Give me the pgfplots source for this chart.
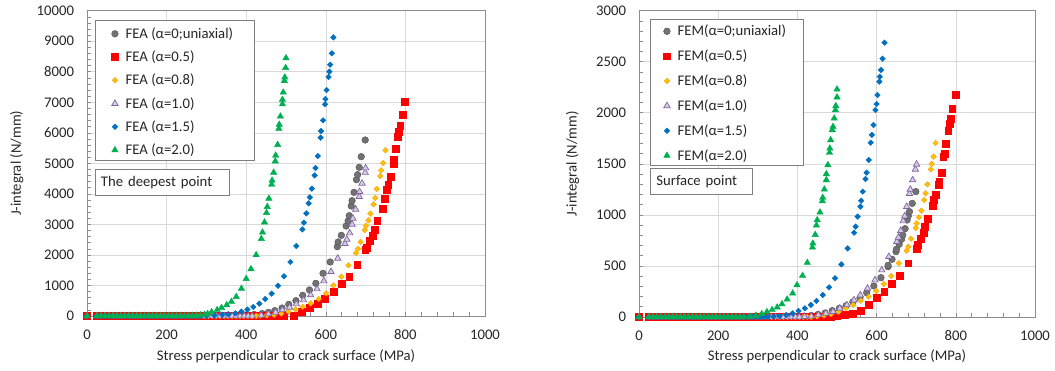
\documentclass[border=0pt]{standalone}
\usepackage{pgfplots}
\pgfplotsset{compat=1.18}
\usepackage{fontspec}
\setmainfont{Carlito}
\definecolor{cgray}{HTML}{727272}
\definecolor{cgrayd}{HTML}{595959}
\definecolor{cred}{HTML}{FF0000}
\definecolor{corange}{HTML}{FFC000}
\definecolor{corangeD}{HTML}{F5A623}
\definecolor{cpurple}{HTML}{8064A2}
\definecolor{cpurpleF}{HTML}{D6CCE4}
\definecolor{cblue}{HTML}{0070C0}
\definecolor{cgreen}{HTML}{00B050}
\definecolor{gridc}{HTML}{D9D9D9}
\definecolor{axc}{HTML}{8C8C8C}
\definecolor{txtc}{HTML}{262626}
\definecolor{boxc}{HTML}{7F7F7F}
\newcommand{\fnt}{\fontsize{14.7}{17}\selectfont}
\pgfplotsset{
  myaxis/.style={
    scale only axis, xmin=0, xmax=1000, xtick={0,200,...,1000}, minor x tick num=4,
    minor y tick num=4, ymin=0, scaled y ticks=false, scaled x ticks=false,
    grid=major, major grid style={color=gridc, line width=0.6pt},
    axis line style={color=axc, line width=0.8pt},
    tick style={color=axc, line width=0.6pt}, tick align=inside,
    major tick length=4pt, minor tick length=4pt,
    xtick pos=bottom, ytick pos=left, clip=false,
    font=\fnt, text=txtc,
    tick label style={font=\fnt},
    label style={font=\fnt},
    /pgf/number format/assume math mode=true, /pgf/number format/1000 sep={},
    xticklabel style={yshift=-10pt}, yticklabel style={xshift=-9.5pt},
    xlabel={Stress perpendicular to crack surface (MPa)},
    ylabel={J-integral (N/mm)},
    only marks,
    legend cell align=left,
    legend image code/.code={\draw[mark repeat=2,mark phase=2,##1] plot coordinates {(0cm,0cm)(0.15cm,0cm)(0.3cm,0cm)}; \path (0.45cm,0cm);},
    legend style={draw=none, fill=none, anchor=north west, font=\fnt,
      inner xsep=0pt, inner ysep=3pt, row sep=7pt, cells={inner xsep=4.4pt, inner ysep=1pt, font=\fnt}},
  },
  sGray/.style={mark=*, mark size=3.3pt, mark options={fill=cgray, draw=cgrayd, line width=0.5pt}},
  sRed/.style={mark=square*, mark size=3.4pt, mark options={fill=cred, draw=cred}},
  sOrange/.style={mark=square*, mark size=2.0pt, mark options={rotate=45, fill=corange, draw=corangeD, line width=0.4pt}},
  sPurple/.style={mark=triangle*, mark size=3.7pt, mark options={fill=cpurpleF, draw=cpurple, line width=0.7pt}},
  sBlue/.style={mark=square*, mark size=2.0pt, mark options={rotate=45, fill=cblue, draw=cblue}},
  sGreen/.style={mark=triangle*, mark size=3.7pt, mark options={fill=cgreen, draw=cgreen}},
}
\begin{document}
\begin{tikzpicture}
\path[use as bounding box] (0pt,0pt) rectangle (1055pt,-371pt);
% ---------------- left: deepest point
\begin{axis}[myaxis, at={(87pt,-316pt)}, anchor=south west, width=398pt, height=305.3pt,
  ymax=10000, ytick={0,1000,...,10000},
  xlabel style={at={(axis description cs:0.5,-0.133)}, anchor=center},
  ylabel style={at={(axis description cs:-0.1766,0.5)}, anchor=center},
  legend style={at={(0.0612,0.9614)}}]
\addplot[sGray] coordinates {(0,0)(25,0)(35,0)(45,0)(55,0)(65,0)(75,0)(85,0)(95,0)(105,0)(115,0)(125,0)(135,0)(145,0)(155,0)(165,0)(175,0)(185,0)(195,0)(205,0)(215,0)(225,0)(235,0)(245,0)(255,0)(265,0)(275,0)(285,0)(295,0)(305,0)(315,0)(325,0)(335,0)(345,0)
(360,5)(380,15)(400,30)(420,50)(440,80)(456,120)(472,175)(490,262)(507,382)(525,502)(542,677)(559,852)(575,1070)(593,1397)(611,1769)(629,2271)(631,2424)(639,2642)(651,2948)(656,3111)(659,3286)(664,3603)(666,3777)(671,4050)(677,4465)(680,4629)(684,4869)(689,5218)(699,5764)};
\addlegendentry{FEA (α=0;uniaxial)}
\addplot[sRed] coordinates {(0,0)(25,0)(35,0)(45,0)(55,0)(65,0)(75,0)(85,0)(95,0)(105,0)(115,0)(125,0)(135,0)(145,0)(155,0)(165,0)(175,0)(185,0)(195,0)(205,0)(215,0)(225,0)(235,0)(245,0)(255,0)(265,0)(275,0)(285,0)(295,0)(305,0)(315,0)(325,0)(335,0)(345,0)(355,0)(365,0)(375,0)(385,0)(395,0)(405,0)(415,0)(425,0)(435,0)(445,0)(455,0)(465,0)(475,0)(485,0)(495,0)
(520,22)(540,142)(560,273)(579,393)(598,557)(619,786)(639,1048)(659,1288)(679,1670)(699,2162)(702,2227)(711,2456)(717,2631)(722,2838)(729,3111)(742,3526)(747,3843)(754,4148)(757,4290)(763,4552)(770,5000)(771,5109)(776,5480)(780,5862)(784,6037)(787,6223)(793,6583)(799,7020)};
\addlegendentry{FEA (α=0.5)}
\addplot[sOrange] coordinates {(0,0)(25,0)(35,0)(45,0)(55,0)(65,0)(75,0)(85,0)(95,0)(105,0)(115,0)(125,0)(135,0)(145,0)(155,0)(165,0)(175,0)(185,0)(195,0)(205,0)(215,0)(225,0)(235,0)(245,0)(255,0)(265,0)(275,0)(285,0)(295,0)(305,0)(315,0)(325,0)(335,0)(345,0)(355,0)(365,0)(375,0)(385,0)(395,0)(405,0)(415,0)(425,0)
(435,10)(452,20)(470,40)(488,80)(506,142)(524,218)(542,306)(562,415)(582,557)(601,742)(619,1004)(639,1288)(657,1659)(676,2063)(681,2205)(687,2424)(698,2817)(701,2959)(707,3133)(712,3352)(720,3657)(724,3865)(728,4159)(737,4585)(739,4771)(744,5011)(750,5426)};
\addlegendentry{FEA (α=0.8)}
\addplot[sPurple] coordinates {(0,0)(25,0)(35,0)(45,0)(55,0)(65,0)(75,0)(85,0)(95,0)(105,0)(115,0)(125,0)(135,0)(145,0)(155,0)(165,0)(175,0)(185,0)(195,0)(205,0)(215,0)(225,0)(235,0)(245,0)(255,0)(265,0)(275,0)(285,0)(295,0)(305,0)(315,0)(325,0)(335,0)(345,0)(355,0)(365,0)(375,0)(385,0)(395,0)(405,0)(415,0)
(438,22)(456,66)(474,120)(491,197)(509,284)(526,393)(544,524)(562,688)(578,884)(595,1146)(613,1452)(630,1889)(648,2369)(653,2511)(660,2718)(666,3002)(668,3199)(675,3493)(684,3908)(685,4072)(691,4345)(699,4700)(700,4847)};
\addlegendentry{FEA (α=1.0)}
\addplot[sBlue] coordinates {(0,0)(25,0)(35,0)(45,0)(55,0)(65,0)(75,0)(85,0)(95,0)(105,0)(115,0)(125,0)(135,0)(145,0)(155,0)(165,0)(175,0)(185,0)(195,0)(205,0)(215,0)(225,0)(235,0)(245,0)(255,0)(265,0)(275,0)(285,0)
(300,10)(320,20)(340,40)(355,60)(373,87)(388,142)(403,207)(418,295)(433,404)(448,557)(464,731)(480,993)(495,1299)(511,1769)(526,2293)(541,2838)(545,3057)(551,3362)(557,3690)(560,3886)(565,4170)(572,4607)(574,4847)(580,5240)(587,5841)(588,6059)(593,6408)(598,6932)(599,7107)(602,7402)(607,7828)(609,8002)(611,8231)(615,8603)(619,9127)};
\addlegendentry{FEA (α=1.5)}
\addplot[sGreen] coordinates {(0,0)(25,0)(35,0)(45,0)(55,0)(65,0)(75,0)(85,0)(95,0)(105,0)(115,0)(125,0)(135,0)(145,0)(155,0)(165,0)(175,0)(185,0)(195,0)(205,0)(215,0)(225,0)(235,0)(245,0)(255,0)(265,0)
(275,10)(285,25)(295,45)(303,70)(313,130)(327,200)(338,270)(351,360)(363,470)(375,630)(388,900)(400,1220)(412,1540)(425,2000)(438,2530)(441,2740)(446,3070)(451,3380)(453,3580)(457,3850)(464,4310)(465,4440)(469,4700)(473,5070)(474,5260)(479,5610)(482,6135)(483,6270)(486,6540)(491,6940)(491,7085)(493,7325)(496,7700)(497,7820)(499,8130)(500,8450)};
\addlegendentry{FEA (α=2.0)}
\draw[boxc, line width=0.8pt, fill=white] (rel axis cs:0.0219,0.9672) rectangle (rel axis cs:0.4214,0.5087);
\node[draw=boxc, line width=0.8pt, fill=white, anchor=north west, text width=122pt, inner xsep=6pt, minimum height=26pt, align=left, font=\fnt, text=txtc] at (rel axis cs:0.019,0.4815) {The deepest point};
\end{axis}
% ---------------- right: surface point
\begin{axis}[myaxis, at={(639pt,-317pt)}, anchor=south west, width=396pt, height=306.3pt,
  ymax=3000, ytick={0,500,...,3000},
  xlabel style={at={(axis description cs:0.5,-0.1296)}, anchor=center},
  ylabel style={at={(axis description cs:-0.168,0.5)}, anchor=center},
  legend style={at={(0.0615,0.9697)}, row sep=8.6pt}]
\addplot[sGray] coordinates {(0,0)(25,0)(35,0)(45,0)(55,0)(65,0)(75,0)(85,0)(95,0)(105,0)(115,0)(125,0)(135,0)(145,0)(155,0)(165,0)(175,0)(185,0)(195,0)(205,0)(215,0)(225,0)(235,0)(245,0)(255,0)(265,0)(275,0)(285,0)(295,0)(305,0)(315,0)(325,0)(335,0)(345,0)(355,0)(365,0)(375,0)(385,0)
(400,3)(417,8)(435,15)(452,25)(470,39)(488,62)(506,85)(523,111)(540,147)(558,186)(575,238)(593,304)(611,385)(629,493)(629,506)(639,565)(649,640)(650,663)(657,712)(663,761)(666,803)(672,865)(677,950)(680,989)(683,1032)(690,1113)(699,1228)};
\addlegendentry{FEM(α=0;uniaxial)}
\addplot[sRed] coordinates {(0,0)(25,0)(35,0)(45,0)(55,0)(65,0)(75,0)(85,0)(95,0)(105,0)(115,0)(125,0)(135,0)(145,0)(155,0)(165,0)(175,0)(185,0)(195,0)(205,0)(215,0)(225,0)(235,0)(245,0)(255,0)(265,0)(275,0)(285,0)(295,0)(305,0)(315,0)(325,0)(335,0)(345,0)(355,0)(365,0)(375,0)(385,0)(395,0)(405,0)(415,0)(425,0)(435,0)(445,0)(455,0)(465,0)(475,0)(485,0)
(500,8)(520,20)(540,36)(560,62)(580,124)(600,186)(619,251)(639,323)(659,408)(680,526)(701,672)(704,705)(712,767)(718,829)(721,885)(729,966)(742,1090)(745,1146)(749,1195)(756,1293)(758,1325)(764,1417)(768,1570)(771,1603)(775,1701)(781,1822)(784,1897)(788,1946)(791,2044)(799,2178)};
\addlegendentry{FEM(α=0.5)}
\addplot[sOrange] coordinates {(0,0)(25,0)(35,0)(45,0)(55,0)(65,0)(75,0)(85,0)(95,0)(105,0)(115,0)(125,0)(135,0)(145,0)(155,0)(165,0)(175,0)(185,0)(195,0)(205,0)(215,0)(225,0)(235,0)(245,0)(255,0)(265,0)(275,0)(285,0)(295,0)(305,0)(315,0)(325,0)(335,0)(345,0)(355,0)(365,0)(375,0)(385,0)(395,0)(405,0)(415,0)(425,0)(435,0)
(450,6)(467,15)(485,29)(504,52)(522,85)(541,118)(560,160)(580,199)(599,255)(618,323)(637,402)(656,526)(676,650)(680,689)(687,767)(699,872)(701,917)(707,976)(713,1041)(720,1146)(724,1211)(728,1299)(737,1446)(739,1499)(744,1570)(749,1704)};
\addlegendentry{FEM(α=0.8)}
\addplot[sPurple] coordinates {(0,0)(25,0)(35,0)(45,0)(55,0)(65,0)(75,0)(85,0)(95,0)(105,0)(115,0)(125,0)(135,0)(145,0)(155,0)(165,0)(175,0)(185,0)(195,0)(205,0)(215,0)(225,0)(235,0)(245,0)(255,0)(265,0)(275,0)(285,0)(295,0)(305,0)(315,0)(325,0)(335,0)(345,0)(355,0)(365,0)(375,0)(385,0)(395,0)(405,0)
(418,3)(435,8)(453,20)(472,36)(490,52)(507,85)(525,118)(543,166)(559,215)(577,281)(596,362)(613,460)(631,591)(651,738)(655,780)(661,846)(667,940)(671,989)(676,1081)(683,1208)(685,1250)(691,1342)(698,1446)(701,1495)};
\addlegendentry{FEM(α=1.0)}
\addplot[sBlue] coordinates {(0,0)(25,0)(35,0)(45,0)(55,0)(65,0)(75,0)(85,0)(95,0)(105,0)(115,0)(125,0)(135,0)(145,0)(155,0)(165,0)(175,0)(185,0)(195,0)(205,0)(215,0)(225,0)(235,0)(245,0)(255,0)(265,0)(275,0)(285,0)(295,0)(305,0)(315,0)(325,0)
(340,5)(355,10)(372,20)(388,36)(403,59)(419,85)(434,118)(448,157)(464,215)(480,291)(495,379)(511,516)(527,672)(543,826)(547,885)(552,983)(559,1081)(561,1139)(565,1228)(572,1352)(575,1414)(580,1538)(585,1707)(588,1783)(592,1880)(597,2027)(600,2086)(602,2174)(607,2305)(608,2354)(611,2419)(615,2530)(620,2687)};
\addlegendentry{FEM(α=1.5)}
\addplot[sGreen] coordinates {(0,0)(25,0)(35,0)(45,0)(55,0)(65,0)(75,0)(85,0)(95,0)(105,0)(115,0)(125,0)(135,0)(145,0)(155,0)(165,0)(175,0)(185,0)(195,0)(205,0)(215,0)(225,0)(235,0)(245,0)(255,0)(265,0)
(280,5)(295,15)(310,30)(323,50)(336,70)(349,95)(361,127)(374,173)(388,232)(399,313)(413,405)(425,532)(438,682)(439,721)(445,806)(448,898)(450,950)(457,1025)(463,1136)(464,1169)(468,1250)(473,1342)(473,1401)(477,1489)(481,1610)(482,1652)(484,1734)(488,1832)(490,1864)(493,1946)(496,2027)(497,2067)(500,2152)(500,2230)};
\addlegendentry{FEM(α=2.0)}
\draw[boxc, line width=0.8pt, fill=white] (rel axis cs:0.0295,0.9729) rectangle (rel axis cs:0.4159,0.4962);
\node[draw=boxc, line width=0.8pt, fill=white, anchor=north west, text width=90pt, inner xsep=6pt, minimum height=26pt, align=left, font=\fnt, text=txtc] at (rel axis cs:0.0278,0.4865) {Surface point};
\end{axis}
\end{tikzpicture}
\end{document}
